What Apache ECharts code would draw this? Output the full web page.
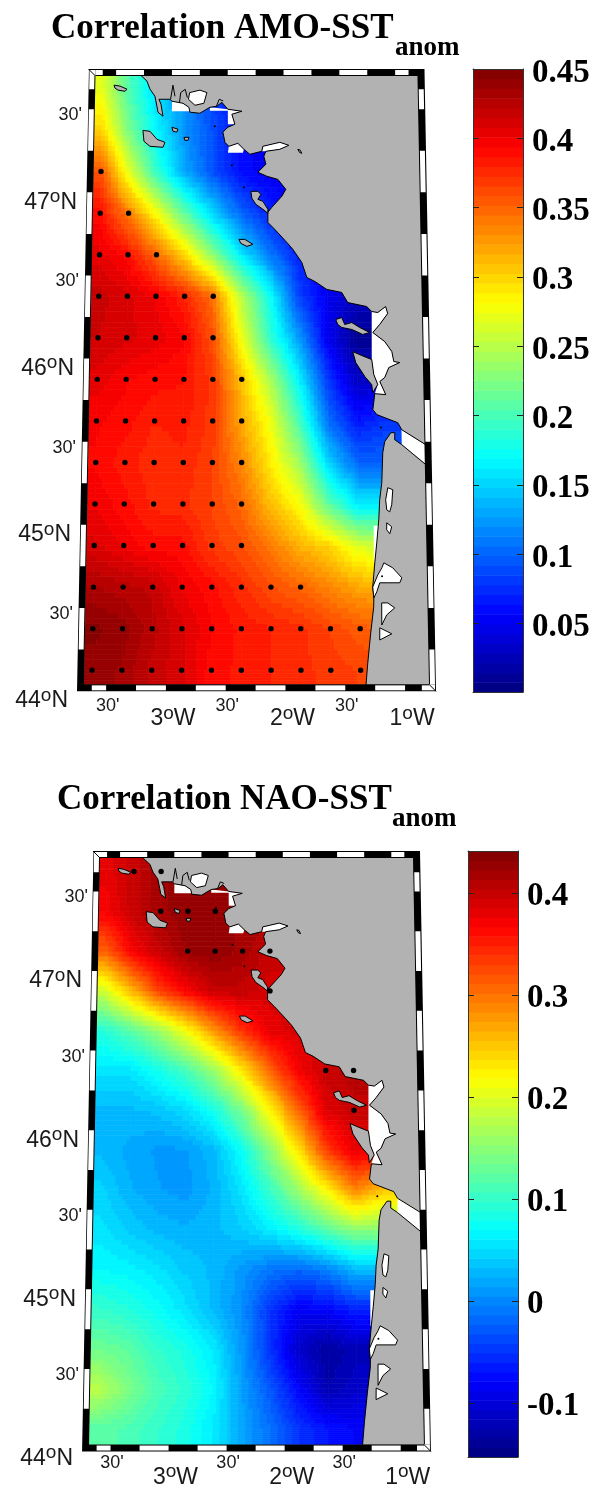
<!DOCTYPE html>
<html><head><meta charset="utf-8">
<style>html,body{margin:0;padding:0;background:#fff}#c{width:593px;height:1489px}</style>
<script src="https://cdn.jsdelivr.net/npm/echarts@6/dist/echarts.min.js"></script>
</head><body><div id="c"></div>
<script>
// ---------- DATA ----------
const lonNodes = [-3.62,-3.37,-3.12,-2.87,-2.62,-2.37,-2.12,-1.87,-1.62,-1.37,-1.12];
const latNodes = [47.625,47.375,47.125,46.875,46.625,46.375,46.125,45.875,45.625,45.375,45.125,44.875,44.625,44.375,44.125];
const amoField = [
 [.27,.20,.15,.12,.08,.06,.05,.05,.05,.05,.05],
 [.30,.22,.165,.12,.09,.06,.05,.05,.05,.05,.05],
 [.36,.27,.19,.13,.09,.06,.05,.05,.05,.05,.05],
 [.39,.34,.28,.21,.15,.10,.07,.05,.05,.05,.05],
 [.405,.39,.35,.30,.23,.16,.11,.07,.05,.04,.04],
 [.418,.41,.40,.38,.345,.25,.175,.085,.05,.03,.03],
 [.415,.41,.405,.395,.36,.275,.19,.125,.05,.01,.01],
 [.405,.395,.39,.387,.37,.31,.245,.165,.08,.03,.03],
 [.395,.39,.38,.383,.37,.32,.275,.20,.105,.065,.08],
 [.393,.383,.375,.378,.367,.335,.29,.24,.15,.10,.10],
 [.40,.39,.378,.375,.365,.35,.31,.28,.21,.16,.16],
 [.41,.40,.39,.39,.37,.36,.34,.315,.30,.265,.26],
 [.43,.425,.42,.40,.39,.375,.36,.35,.335,.32,.32],
 [.445,.44,.425,.41,.395,.385,.38,.375,.365,.355,.35],
 [.44,.435,.42,.41,.39,.385,.38,.375,.37,.365,.36]
];
const naoField = [
 [.38,.40,.42,.43,.43,.43,.42,.42,.42,.42,.42],
 [.37,.40,.42,.43,.43,.42,.42,.42,.42,.42,.42],
 [.31,.37,.40,.425,.43,.42,.40,.40,.40,.40,.40],
 [.19,.26,.33,.37,.40,.40,.39,.39,.39,.39,.39],
 [.09,.12,.16,.215,.28,.34,.38,.39,.39,.39,.39],
 [.055,.055,.08,.11,.16,.23,.31,.37,.40,.41,.41],
 [.03,.03,.035,.05,.08,.14,.22,.31,.385,.40,.40],
 [.03,.02,.012,.012,.03,.075,.15,.23,.33,.38,.38],
 [.045,.025,.015,.01,.025,.055,.10,.16,.22,.29,.25],
 [.055,.04,.03,.025,.03,.04,.06,.085,.12,.15,.15],
 [.07,.065,.055,.04,.03,.01,-.01,-.02,-.005,.03,.03],
 [.10,.09,.075,.055,.03,.005,-.05,-.085,-.08,-.06,-.06],
 [.135,.125,.10,.085,.06,.01,-.05,-.11,-.135,-.12,-.12],
 [.18,.145,.115,.095,.07,.015,-.03,-.08,-.125,-.11,-.11],
 [.12,.115,.10,.085,.06,.02,-.015,-.05,-.07,-.08,-.08]
];
// significance dots: [lat, column indices into lonNodes]
const amoDots = [
 [47.125,[0]],[46.875,[0,1]],[46.625,[0,1,2]],[46.375,[0,1,2,3,4]],[46.125,[0,1,2,3,4]],
 [45.875,[0,1,2,3,4,5]],[45.625,[0,1,2,3,4,5]],[45.375,[0,1,2,3,4,5]],[45.125,[0,1,2,3,4,5]],
 [44.875,[0,1,2,3,4,5]],[44.625,[0,1,2,3,4,5,6,7]],[44.375,[0,1,2,3,4,5,6,7,8,9]],[44.125,[0,1,2,3,4,5,6,7,8,9]]
];
const naoDots = [
 [47.625,[1,2]],[47.375,[2,3,4]],[47.125,[3,4,5,6]],[46.875,[6]],[46.375,[8,9]],[46.125,[9]]
];
// coastline, lon/lat
const northCoast = [[-3.304,47.72],[-3.223,47.669],[-3.195,47.621],[-3.150,47.578],[-3.131,47.518],[-3.121,47.482],[-3.076,47.458],[-3.095,47.530],[-3.114,47.560],[-3.016,47.560],[-2.997,47.548],[-2.899,47.536],[-2.846,47.512],[-2.836,47.482],[-2.747,47.476],[-2.658,47.512],[-2.596,47.518],[-2.552,47.542],[-2.498,47.500],[-2.373,47.488],[-2.462,47.470],[-2.435,47.410],[-2.497,47.392],[-2.541,47.362],[-2.523,47.301],[-2.488,47.277],[-2.408,47.295],[-2.354,47.259],[-2.301,47.229],[-2.195,47.247],[-2.186,47.277],[-2.035,47.301],[-1.955,47.283],[-2.035,47.259],[-2.159,47.247],[-2.177,47.217],[-2.159,47.169],[-2.230,47.121],[-2.151,47.097],[-2.053,47.078],[-1.983,47.018],[-2.019,46.976],[-2.107,46.910],[-2.142,46.880],[-2.142,46.819],[-2.081,46.777],[-1.976,46.699],[-1.923,46.657],[-1.845,46.578],[-1.802,46.488],[-1.732,46.464],[-1.628,46.416],[-1.498,46.398],[-1.446,46.337],[-1.281,46.313],[-1.238,46.283],[-1.185,46.277],[-1.116,46.313],[-1.099,46.271],[-1.170,46.205],[-1.231,46.157],[-1.128,46.102],[-1.068,46.042],[-1.052,45.982],[-1.001,45.976],[-1.096,45.946],[-1.133,45.886],[-1.176,45.862],[-1.126,45.783],[-1.221,45.789],[-1.239,45.693],[-1.206,45.663],[-1.026,45.614],[-0.993,45.572],[-0.79,45.482],[-0.79,47.72]];
const southCoast = [[-0.79,45.361],[-0.995,45.482],[-1.055,45.512],[-1.053,45.554],[-1.087,45.554],[-1.141,45.500],[-1.159,45.434],[-1.171,45.253],[-1.191,45.151],[-1.201,45.030],[-1.221,44.891],[-1.240,44.771],[-1.260,44.626],[-1.252,44.560],[-1.254,44.506],[-1.282,44.349],[-1.310,44.168],[-1.329,44.02],[-0.79,44.02]];
const islands = [
 [[-3.517,47.645],[-3.463,47.639],[-3.401,47.621],[-3.418,47.608],[-3.481,47.615],[-3.508,47.627]],
 [[-3.253,47.373],[-3.190,47.367],[-3.127,47.319],[-3.056,47.301],[-3.073,47.271],[-3.189,47.277],[-3.243,47.307]],
 [[-2.995,47.392],[-2.942,47.380],[-2.951,47.362],[-2.986,47.368]],
 [[-2.887,47.331],[-2.843,47.331],[-2.852,47.313],[-2.879,47.313]],
 [[-2.292,47.006],[-2.230,47.006],[-2.204,46.988],[-2.230,46.958],[-2.186,46.946],[-2.142,46.898],[-2.142,46.874],[-2.186,46.898],[-2.248,46.928],[-2.283,46.964]],
 [[-2.397,46.717],[-2.345,46.717],[-2.274,46.687],[-2.327,46.675],[-2.380,46.693]],
 [[-1.552,46.235],[-1.500,46.247],[-1.474,46.205],[-1.413,46.217],[-1.344,46.187],[-1.258,46.157],[-1.318,46.145],[-1.413,46.175],[-1.500,46.187],[-1.535,46.205]],
 [[-1.407,46.042],[-1.382,45.976],[-1.305,45.892],[-1.246,45.843],[-1.239,45.795],[-1.194,45.844],[-1.227,45.904],[-1.243,45.994],[-1.329,46.018]],
 [[-1.875,47.259],[-1.855,47.255],[-1.840,47.235],[-1.860,47.240]]
];
const noDataPatches = [
 [[-2.997,47.548],[-2.899,47.536],[-2.846,47.512],[-2.836,47.488],[-2.997,47.488]],
 [[-2.658,47.491],[-2.658,47.512],[-2.498,47.500],[-2.373,47.488],[-2.462,47.470],[-2.435,47.410],[-2.497,47.410],[-2.498,47.491]],
 [[-2.488,47.277],[-2.408,47.295],[-2.354,47.259],[-2.363,47.238],[-2.496,47.238]],
 [[-2.195,47.247],[-2.186,47.277],[-2.035,47.301],[-1.955,47.283],[-2.035,47.259],[-2.159,47.247]],
 [[-1.238,46.283],[-1.185,46.277],[-1.116,46.313],[-1.099,46.271],[-1.170,46.205],[-1.231,46.157],[-1.128,46.102],[-1.068,46.042],[-1.052,45.982],[-1.001,45.976],[-1.096,45.946],[-1.133,45.886],[-1.176,45.862],[-1.126,45.783],[-1.221,45.789],[-1.194,45.844],[-1.227,45.904],[-1.243,45.994]],
 [[-0.995,45.572],[-0.79,45.482],[-0.79,45.361],[-0.995,45.482]],
 [[-1.245,44.994],[-1.202,44.994],[-1.221,44.891],[-1.240,44.771],[-1.248,44.771]]
];
const lakes = [
 [[-2.84,47.60],[-2.748,47.615],[-2.686,47.600],[-2.712,47.536],[-2.792,47.524],[-2.85,47.56]],
 [[-1.163,44.771],[-1.088,44.741],[-1.013,44.681],[-1.031,44.651],[-1.132,44.651],[-1.200,44.651],[-1.226,44.597],[-1.252,44.560],[-1.260,44.626],[-1.216,44.698],[-1.181,44.741]],
 [[-1.120,45.223],[-1.078,45.211],[-1.089,45.120],[-1.107,45.078],[-1.132,45.090],[-1.140,45.151]],
 [[-1.134,45.012],[-1.092,44.988],[-1.109,44.946],[-1.135,44.970]],
 [[-1.186,44.530],[-1.135,44.530],[-1.077,44.500],[-1.145,44.458],[-1.188,44.397]],
 [[-1.205,44.380],[-1.105,44.344],[-1.207,44.307]]
];
const inlets = [
 [[-3.01,47.56],[-2.99,47.645],[-2.971,47.578]],
 [[-2.93,47.54],[-2.92,47.60],[-2.88,47.62],[-2.86,47.57]],
 [[-2.60,47.518],[-2.575,47.56],[-2.54,47.55]]
];
const specks = [[-2.461,47.163],[-2.354,47.030],[-2.613,47.398],[-1.172,45.585],[-1.180,44.690]];
// frame: white cells on each edge
const topWhite = [[-3.685,-3.62],[-3.5,-3.25],[-3,-2.75],[-2.5,-2.25],[-2,-1.75],[-1.5,-1.25],[-1,-.88]];
const bottomWhite = [[-3.62,-3.5],[-3.25,-3],[-2.75,-2.5],[-2.25,-2],[-1.75,-1.5],[-1.25,-1],[-.86,-.8]];
const leftWhite = [[47.62,47.72],[47.25,47.5],[46.75,47],[46.25,46.5],[45.75,46],[45.25,45.5],[44.75,45],[44.25,44.5]];
const rightWhite = [[47.5,47.62],[47,47.25],[46.5,46.75],[46,46.25],[45.5,45.75],[45,45.25],[44.5,44.75],[44,44.25]];
const lonTicksDeg = [-3,-2,-1], lonTicksMin = [-3.5,-2.5,-1.5];
const latTicksDeg = [47,46,45,44], latTicksMin = [47.5,46.5,45.5,44.5];
const amoBarTicks = [.05,.1,.15,.2,.25,.3,.35,.4,.45];
const naoBarTicks = [-.1,0,.1,.2,.3,.4];
const amoRange = [0.0006,0.45], naoRange = [-0.153,0.441];
const titles = ['Correlation AMO-SST','Correlation NAO-SST'];

// ---------- LAYOUT ----------
const maps = [
 {left:84,width:345,top:76,height:615,bottom:684,latMin:44.04,latMax:47.70,k:1.096e-4,cx:256,field:amoField,range:amoRange,dots:amoDots,degM:[13,7],minM:[6,2]},
 {left:89,width:335,top:858,height:594,bottom:1448,latMin:44.025,latMax:47.71,k:1.113e-4,cx:256.5,field:naoField,range:naoRange,dots:naoDots,degM:[14,7],minM:[6,1]}
];
const lonMin=-3.685, lonMax=-0.80, SUB=8;
function jet(f){const c=x=>Math.max(0,Math.min(1,x));
 const r=c(Math.min(4*f-1.5,-4*f+4.5)),g=c(Math.min(4*f-.5,-4*f+3.5)),b=c(Math.min(4*f+.5,-4*f+2.5));
 return 'rgb('+Math.round(r*255)+','+Math.round(g*255)+','+Math.round(b*255)+')';}
function level(v,range){let i=Math.floor((v-range[0])/(range[1]-range[0])*64);return Math.max(0,Math.min(63,i));}
function levelColor(i){return jet((i+.5)/64);}
function project(api,m,lon,lat){const p=api.coord([lon,lat]);const s=1-m.k*(m.bottom-p[1]);return [m.cx+(p[0]-m.cx)*s,p[1]];}

function fieldCells(m){
 const xs=[lonMin].concat(lonNodes,[lonMax]);
 const ys=[m.latMin].concat(latNodes.slice().reverse(),[m.latMax]);
 const F=m.field.slice().reverse(), nx=lonNodes.length, ny=latNodes.length;
 const val=(i,j)=>F[Math.max(0,Math.min(ny-1,j-1))][Math.max(0,Math.min(nx-1,i-1))];
 const out=[];
 for(let j=0;j<ys.length-1;j++)for(let i=0;i<xs.length-1;i++)
  out.push([xs[i],xs[i+1],ys[j],ys[j+1],val(i,j),val(i+1,j),val(i,j+1),val(i+1,j+1)]);
 return out;
}
function fieldSeries(mi){const m=maps[mi];
 return {type:'custom',coordinateSystem:'cartesian2d',xAxisIndex:mi*2,yAxisIndex:mi*2,silent:true,clip:false,z:1,
  data:fieldCells(m),encode:{x:0,y:2},
  renderItem(params,api){
   const [x0,x1,y0,y1,a,b,c,d]=[0,1,2,3,4,5,6,7].map(k=>api.value(k));
   const kids=[];
   for(let r=0;r<SUB;r++){
    const t=(r+.5)/SUB;let start=0,cur=-1;
    for(let q=0;q<=SUB;q++){
     let lv=-2;
     if(q<SUB){const u=(q+.5)/SUB;lv=level(a*(1-u)*(1-t)+b*u*(1-t)+c*(1-u)*t+d*u*t,m.range);}
     if(lv!==cur){
      if(cur>=0){
       const xa=x0+(x1-x0)*start/SUB,xb=x0+(x1-x0)*q/SUB,ya=y0+(y1-y0)*r/SUB,yb=y0+(y1-y0)*(r+1)/SUB;
       const col=levelColor(cur);
       kids.push({type:'polygon',shape:{points:[project(api,m,xa,ya),project(api,m,xb,ya),project(api,m,xb,yb),project(api,m,xa,yb)]},
        style:{fill:col,stroke:col,lineWidth:.7}});
      }
      cur=lv;start=q;
     }
    }
   }
   return {type:'group',children:kids};
  }};
}
function polySeries(mi,polys,style,z,open){const m=maps[mi];
 return {type:'custom',coordinateSystem:'cartesian2d',xAxisIndex:mi*2,yAxisIndex:mi*2,silent:true,clip:false,z:z,
  data:polys.map((p,i)=>[p[0][0],p[0][1],i]),encode:{x:0,y:1},
  renderItem(params,api){const p=polys[api.value(2)];
   return {type:open?'polyline':'polygon',shape:{points:p.map(q=>project(api,m,q[0],q[1]))},style:style};}};
}
function dotSeries(mi,pts,r,z){const m=maps[mi];
 return {type:'custom',coordinateSystem:'cartesian2d',xAxisIndex:mi*2,yAxisIndex:mi*2,silent:true,clip:false,z:z,
  data:pts,encode:{x:0,y:1},
  renderItem(params,api){const p=project(api,m,api.value(0),api.value(1));
   return {type:'circle',shape:{cx:p[0],cy:p[1],r:r},style:{fill:'#000'}};}};
}
function frameSeries(mi){const m=maps[mi];
 const items=[[-1,0,0],[6,0,0],[7,0,0]];
 topWhite.forEach(c=>items.push([0,c[0],c[1]]));
 bottomWhite.forEach(c=>items.push([1,c[0],c[1]]));
 leftWhite.forEach(c=>items.push([2,c[0],Math.min(c[1],m.latMax)]));
 rightWhite.forEach(c=>items.push([3,Math.max(c[0],m.latMin),c[1]]));
 return {type:'custom',coordinateSystem:'cartesian2d',xAxisIndex:mi*2,yAxisIndex:mi*2,silent:true,clip:false,z:20,
  data:items,encode:{x:1},
  renderItem(params,api){
   const e=api.value(0),a=api.value(1),b=api.value(2),W=7,i0=1,i1=6;
   const P=(lon,lat)=>project(api,m,lon,lat);
   const tl=P(lonMin,m.latMax),tr=P(lonMax,m.latMax),bl=P(lonMin,m.latMin),br=P(lonMax,m.latMin);
   if(e===-1){
    return {type:'group',children:[{type:'polygon',shape:{points:[[tl[0]-W+.5,tl[1]-W],[tr[0]+W,tr[1]-W],[br[0]+W,br[1]+W],[bl[0]-W,bl[1]+W],[bl[0],bl[1]],[br[0],br[1]],[tr[0],tr[1]],[tl[0],tl[1]],[bl[0],bl[1]],[bl[0]-W,bl[1]+W]]},style:{fill:'#000'}}]};
   }
   if(e===6||e===7){
    const o=e===6?tl:br,s=e===6?-1:1;
    const q=[o[0]+s*W,o[1]+s*W];
    return {type:'group',children:[
     {type:'polygon',shape:{points:[[o[0],o[1]],[q[0]-s*1,o[1]],[q[0]-s*1,q[1]-s*1],[o[0],q[1]-s*1]]},style:{fill:'#fff'}},
     {type:'line',shape:{x1:o[0],y1:o[1],x2:q[0],y2:q[1]},style:{stroke:'#000',lineWidth:1}}]};
   }
   let pa,pb,d;
   if(e===0){pa=P(a,m.latMax);pb=P(b,m.latMax);d=[0,-1];}
   if(e===1){pa=P(a,m.latMin);pb=P(b,m.latMin);d=[0,1];}
   if(e===2){pa=P(lonMin,a);pb=P(lonMin,b);d=[-1,0];}
   if(e===3){pa=P(lonMax,a);pb=P(lonMax,b);d=[1,0];}
   const off=(p,t)=>[p[0]+d[0]*t,p[1]+d[1]*t];
   return {type:'polygon',shape:{points:[off(pa,i0),off(pb,i0),off(pb,i1),off(pa,i1)]},style:{fill:'#fff'}};
  }};
}
function barSeries(gi,range){
 const lv=[];for(let i=0;i<64;i++){const s=(range[1]-range[0])/64;lv.push([0,range[0]+i*s,range[0]+(i+1)*s,i]);}
 return {type:'custom',coordinateSystem:'cartesian2d',xAxisIndex:gi*2,yAxisIndex:gi*2,silent:true,z:1,
  data:lv,encode:{x:0,y:1},
  renderItem(params,api){
   const a=api.coord([0,api.value(1)]),b=api.coord([1,api.value(2)]);
   return {type:'rect',shape:{x:a[0],y:b[1],width:b[0]-a[0],height:a[1]-b[1]+.6},style:{fill:levelColor(api.value(3))}};}};
}
const sansDeg={fontFamily:'Liberation Sans',fontSize:23,color:'#1a1a1a'};
const supStyle={fontFamily:'Liberation Sans',fontSize:19,color:'#1a1a1a',padding:[0,0,11,0]};
const spacers={};for(let i=0;i<=14;i++)spacers['s'+i]={width:i,fontSize:4};
const degRich=Object.assign({d:sansDeg,o:supStyle},spacers);
function blank(){return {show:false};}
const grids=[],xAxes=[],yAxes=[];
maps.forEach((m,mi)=>{
 grids.push({left:m.left,top:m.top,width:m.width,height:m.height,show:false,containLabel:false});
 xAxes.push({gridIndex:grids.length-1,type:'value',min:lonMin,max:lonMax,position:'bottom',axisLine:blank(),axisTick:blank(),splitLine:blank(),
   axisLabel:{customValues:lonTicksDeg,margin:m.degM[0],padding:[0,0,0,14],rich:degRich,hideOverlap:false,
    formatter:v=>'{d|'+Math.abs(v)+'}{o|o}{d|W}'}});
 xAxes.push({gridIndex:grids.length-1,type:'value',min:lonMin,max:lonMax,position:'bottom',axisLine:blank(),axisTick:blank(),splitLine:blank(),
   axisLabel:{customValues:lonTicksMin,margin:m.minM[0],fontFamily:'Liberation Sans',fontSize:18,color:'#1a1a1a',padding:[0,0,0,3],hideOverlap:false,formatter:()=>"30'"}});
 yAxes.push({gridIndex:grids.length-1,type:'value',min:44,max:m.latMax,position:'left',axisLine:blank(),axisTick:blank(),splitLine:blank(),
   axisLabel:{customValues:latTicksDeg,margin:m.degM[1],padding:[20,0,0,0],rich:degRich,hideOverlap:false,showMinLabel:true,
    formatter:v=>'{d|'+v+'}{o|o}{d|N}{s'+Math.round((47-v)*3)+'|\u00a0}'}});
 yAxes.push({gridIndex:grids.length-1,type:'value',min:44,max:m.latMax,position:'left',axisLine:blank(),axisTick:blank(),splitLine:blank(),
   axisLabel:{customValues:latTicksMin,margin:m.minM[1],padding:[12,0,0,0],hideOverlap:false,
    rich:Object.assign({m:{fontFamily:'Liberation Sans',fontSize:18,color:'#1a1a1a'}},spacers),
    formatter:v=>"{m|30'}{s"+Math.round((47.5-v)*3)+"|\u00a0}"}});
});
[{left:473,top:69,width:50,height:623,range:amoRange,ticks:amoBarTicks,pad:8},
 {left:468,top:851,width:50,height:606,range:naoRange,ticks:naoBarTicks,pad:7}].forEach(b=>{
 grids.push({left:b.left,top:b.top,width:b.width,height:b.height,show:false});
 const gi=grids.length-1,line={show:true,onZero:false,lineStyle:{color:'#333',width:1}};
 xAxes.push({gridIndex:gi,type:'value',min:0,max:1,position:'bottom',z:10,axisLine:line,axisTick:blank(),axisLabel:blank(),splitLine:blank()});
 xAxes.push({gridIndex:gi,type:'value',min:0,max:1,position:'top',z:10,axisLine:line,axisTick:blank(),axisLabel:blank(),splitLine:blank()});
 const tick=(mx)=>({show:true,inside:true,length:6,lineStyle:{color:'#222',width:1},customValues:mx});
 yAxes.push({gridIndex:gi,type:'value',min:b.range[0],max:b.range[1],position:'right',z:10,axisLine:line,splitLine:blank(),axisTick:tick(b.ticks.filter(t=>t<b.range[1])),
   axisLabel:{customValues:b.ticks,margin:9,hideOverlap:false,
    rich:{v:{fontFamily:'Liberation Serif',fontWeight:'bold',fontSize:33,color:'#000',padding:[b.pad,0,0,0]}},
    formatter:v=>'{v|'+String(Math.round(v*100)/100)+'}'}});
 yAxes.push({gridIndex:gi,type:'value',min:b.range[0],max:b.range[1],position:'left',z:10,axisLine:line,splitLine:blank(),axisLabel:blank(),axisTick:tick(b.ticks.filter(t=>t<b.range[1]))});
});
const series=[];
maps.forEach((m,mi)=>{
 series.push(fieldSeries(mi));
 series.push(polySeries(mi,noDataPatches,{fill:'#fff'},3));
 series.push(polySeries(mi,[northCoast,southCoast].concat(islands),{fill:'#b2b2b2',stroke:'#000',lineWidth:1},4));
 series.push(polySeries(mi,lakes,{fill:'#fff',stroke:'#000',lineWidth:1},5));
 series.push(polySeries(mi,inlets,{fill:null,stroke:'#000',lineWidth:1},5,true));
 series.push(dotSeries(mi,specks,1,6));
 const pts=[];m.dots.forEach(r=>r[1].forEach(c=>pts.push([lonNodes[c],r[0]])));
 series.push(dotSeries(mi,pts,2.7,7));
 series.push(frameSeries(mi));
});
series.push(barSeries(2,amoRange));
series.push(barSeries(3,naoRange));
const serif={fontFamily:'Liberation Serif',fontWeight:'bold',color:'#000'};
const chart=echarts.init(document.getElementById('c'),null,{renderer:'canvas',width:593,height:1489});
chart.setOption({animation:false,backgroundColor:'#fff',
 title:[
  {text:titles[0],left:51,top:11,padding:0,textStyle:Object.assign({fontSize:35},serif)},
  {text:'anom',left:395,top:35,padding:0,textStyle:Object.assign({fontSize:27},serif)},
  {text:titles[1],left:57,top:782,padding:0,textStyle:Object.assign({fontSize:35},serif)},
  {text:'anom',left:392,top:806,padding:0,textStyle:Object.assign({fontSize:27},serif)}
 ],
 grid:grids,xAxis:xAxes,yAxis:yAxes,series:series});
</script></body></html>
